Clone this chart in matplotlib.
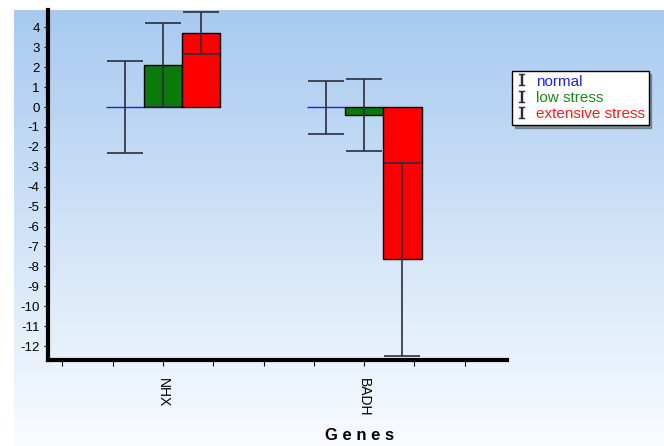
import matplotlib
matplotlib.use("Agg")
import matplotlib.pyplot as plt
from matplotlib.lines import Line2D
import numpy as np

genes = ["NHX", "BADH"]
series = ["normal", "low stress", "extensive stress"]
normal = [0.0, 0.0]
normal_err = [2.32, 1.33]
low = [2.1, -0.4]
low_err = [2.12, 1.8]
extensive = [3.72, -7.65]
extensive_err = [1.04, 4.85]

plt.rcParams['font.family'] = ['Liberation Sans', 'DejaVu Sans']
plt.rcParams['axes.unicode_minus'] = False

fig = plt.figure(figsize=(6.64, 4.46), dpi=100)
fig.patch.set_facecolor('white')

# gradient background
bg = fig.add_axes([14 / 664, 0, 1 - 14 / 664, 1 - 10 / 446])
top = np.array([168, 202, 240]) / 255
bot = np.array([249, 252, 255]) / 255
t = np.linspace(0, 1, 256)[:, None]
grad = top[None, :] * (1 - t) + bot[None, :] * t
bg.imshow(grad[:, None, :], aspect='auto', extent=[0, 1, 0, 1])
bg.set_axis_off()

ax = fig.add_axes([48 / 664, 1 - 360 / 446, (507 - 48) / 664, 350 / 446])
ax.set_facecolor('none')

x = np.arange(1, len(genes) + 1)
w = 0.19
ecol = '#2c2c3c'
cap = 13

ax.bar(x - w, normal, w, color='none', edgecolor='#2020e0', linewidth=1, zorder=2)
ax.bar(x, low, w, color='#0a7a0a', edgecolor='black', linewidth=1, zorder=2)
ax.bar(x + w, extensive, w, color='#ff0000', edgecolor='black', linewidth=1, zorder=2)

for xs, ys, es in [(x - w, normal, normal_err), (x, low, low_err), (x + w, extensive, extensive_err)]:
    ax.errorbar(xs, ys, yerr=es, fmt='none', ecolor=ecol,
                elinewidth=1.2, capsize=cap, capthick=1.2, zorder=3)

ax.set_xlim(0.428, 2.71)
ax.set_ylim(-12.7, 4.87)
ax.set_yticks(np.arange(-12, 5, 1))
ax.set_xticks(x)
ax.set_xticklabels(genes, rotation=-90, fontsize=10)
ax.set_xticks(np.arange(0.5, 2.6, 0.25), minor=True)
ax.tick_params(axis='y', labelsize=9.5, length=3, width=0.8, pad=3)
ax.tick_params(axis='x', which='both', length=4, width=0.8, pad=9)

for s in ['top', 'right']:
    ax.spines[s].set_visible(False)
ax.spines['left'].set_linewidth(3)
ax.spines['bottom'].set_linewidth(3)

fig.text(360 / 664, 1 - 436 / 446, "G e n e s", fontsize=12, fontweight='bold',
         ha='center', va='center')

handles = [Line2D([], [], ls='none', marker='$\\mathtt{I}$', markersize=9,
                  color=ecol, markeredgewidth=0.3) for _ in series]
leg = ax.legend(handles=handles, labels=series, loc='upper left',
                bbox_to_anchor=(512 / 664, 1 - 71 / 446), bbox_transform=fig.transFigure,
                fontsize=11, frameon=True, fancybox=False, shadow=True,
                handlelength=0.8, handletextpad=0.5, borderpad=0.25, labelspacing=0.15,
                borderaxespad=0)
leg.get_frame().set_edgecolor('black')
leg.get_frame().set_linewidth(1)
for txt, c in zip(leg.get_texts(), ['#2020e0', '#1a8a1a', '#ee2020']):
    txt.set_color(c)

fig.savefig("out.png", dpi=100)
